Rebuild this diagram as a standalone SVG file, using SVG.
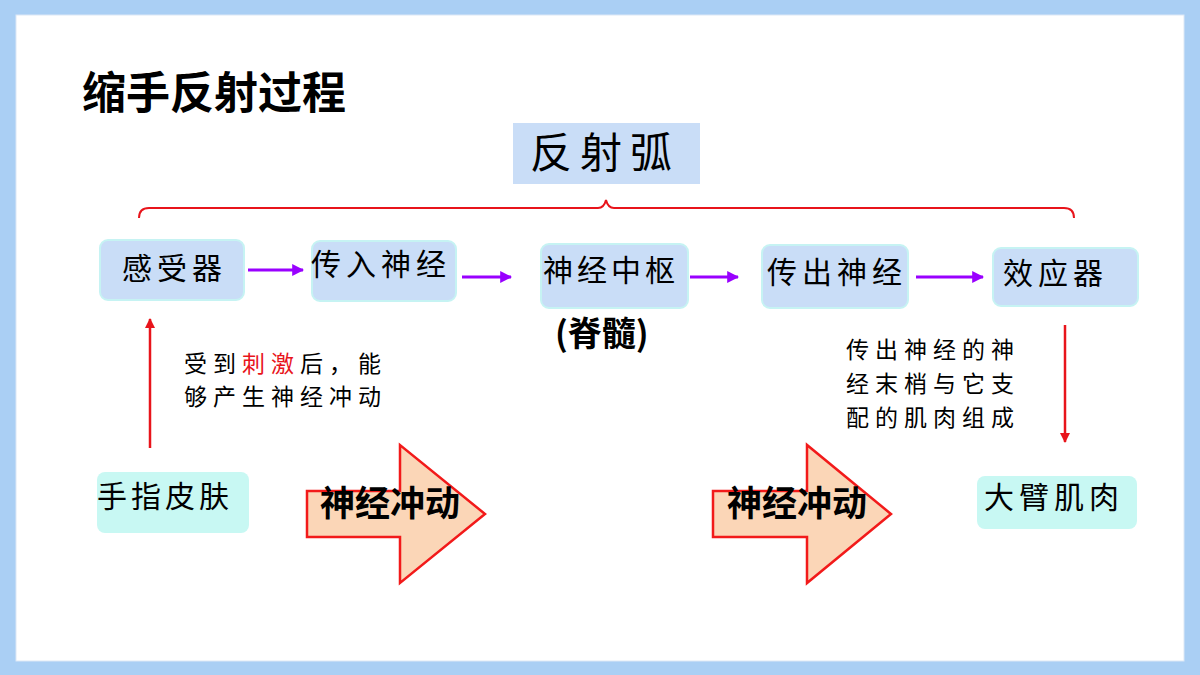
<svg xmlns="http://www.w3.org/2000/svg" width="1200" height="675" viewBox="0 0 1200 675">
<defs>
<style>
.kai{font-family:"Noto Sans CJK SC","Noto Sans CJK TC",sans-serif;fill:#000}
.box{fill:#C9DDF7;stroke:#C6F3F3;stroke-width:2}
.box2{fill:#C8F8F3;stroke:none}
.purple{stroke:#9900FF;stroke-width:3;fill:none;marker-end:url(#pa)}
.red{stroke:#E8141B;stroke-width:2.5;fill:none;marker-end:url(#ra)}
.big{fill:#FBD6B7;stroke:#F21A1A;stroke-width:2.5}
.bold{font-family:"Noto Sans CJK SC",sans-serif;font-weight:bold;fill:#000}
</style>
<marker id="pa" viewBox="0 0 10 10" refX="9" refY="5" markerWidth="4" markerHeight="4" orient="auto"><path d="M0,0 L10,5 L0,10 z" fill="#9900FF"/></marker>
<marker id="ra" viewBox="0 0 10 10" refX="9" refY="5" markerWidth="4" markerHeight="4" orient="auto"><path d="M0,0 L10,5 L0,10 z" fill="#E8141B"/></marker>
</defs>
<rect x="0" y="0" width="1200" height="675" fill="#AACFF4"/>
<rect x="16" y="15" width="1168" height="646" fill="#FFFFFF" stroke="#DCE8F5" stroke-width="1"/>
<text id="title" x="82" y="109" class="bold" font-size="44">缩手反射过程</text>
<g id="arc">
<rect x="513" y="123" width="187" height="61" fill="#C9DDF7"/>
<text x="530" y="168" class="kai" font-size="42" letter-spacing="8">反射弧</text>
</g>
<path id="brace" d="M139,218 Q139,208 149,208 L598,208 Q604,208 606,200 Q608,208 614,208 L1064,208 Q1074,208 1074,218" fill="none" stroke="#E8141B" stroke-width="2"/>
<g id="n1"><rect class="box" x="100" y="240" width="144" height="60" rx="8"/><text x="122" y="279" class="kai" font-size="30" letter-spacing="5">感受器</text></g>
<g id="n2"><rect class="box" x="312" y="241" width="144" height="60" rx="8"/><text x="311" y="275" class="kai" font-size="30" letter-spacing="5">传入神经</text></g>
<g id="n3"><rect class="box" x="541" y="244" width="147" height="64" rx="8"/><text x="543" y="281" class="kai" font-size="30" letter-spacing="4">神经中枢</text></g>
<g id="n4"><rect class="box" x="762" y="245" width="146" height="63" rx="8"/><text x="767" y="283" class="kai" font-size="30" letter-spacing="5">传出神经</text></g>
<g id="n5"><rect class="box" x="993" y="248" width="145" height="58" rx="8"/><text x="1003" y="284" class="kai" font-size="30" letter-spacing="5">效应器</text></g>
<text id="spinal" x="555" y="346" class="bold" font-size="34">(脊髓)</text>
<g id="n6"><rect class="box2" x="97" y="472" width="152" height="61" rx="8"/><text x="97" y="507" class="kai" font-size="30" letter-spacing="4">手指皮肤</text></g>
<g id="n7"><rect class="box2" x="977" y="476" width="160" height="53" rx="8"/><text x="984" y="508" class="kai" font-size="30" letter-spacing="5">大臂肌肉</text></g>
<g id="note1" class="kai" font-size="23" letter-spacing="6">
<text x="184" y="372">受到<tspan fill="#E8141B">刺激</tspan>后，能</text>
<text x="184" y="405">够产生神经冲动</text>
</g>
<g id="note2" class="kai" font-size="23" letter-spacing="6">
<text x="846" y="358">传出神经的神</text>
<text x="846" y="392">经末梢与它支</text>
<text x="846" y="426">配的肌肉组成</text>
</g>
<g id="connectors">
<line class="purple" x1="248" y1="270" x2="303" y2="270"/>
<line class="purple" x1="462" y1="277" x2="511" y2="277"/>
<line class="purple" x1="690" y1="277" x2="738" y2="277"/>
<line class="purple" x1="916" y1="277" x2="983" y2="277"/>
<line class="red" x1="150" y1="448" x2="150" y2="319"/>
<line class="red" x1="1065" y1="325" x2="1065" y2="442"/>
</g>
<g id="bigarrow1">
<path class="big" d="M307,491 L400,491 L400,445 L485,514 L400,583 L400,537 L307,537 z"/>
<text x="320" y="516" class="bold" font-size="35">神经冲动</text>
</g>
<g id="bigarrow2">
<path class="big" d="M713,491 L807,491 L807,445 L891,514 L807,583 L807,537 L713,537 z"/>
<text x="727" y="516" class="bold" font-size="35">神经冲动</text>
</g>
</svg>
